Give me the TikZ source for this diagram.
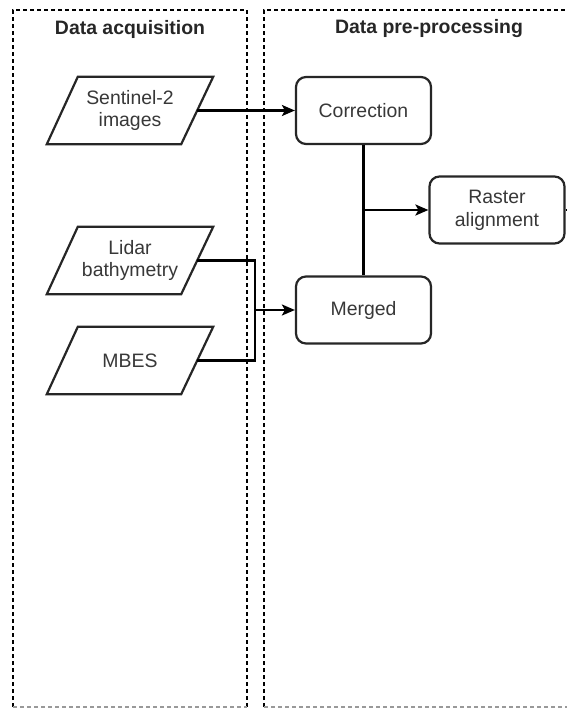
\documentclass[tikz,border=0pt]{standalone}
\usepackage{fontspec}
\setmainfont{Liberation Sans}
\usetikzlibrary{arrows.meta,calc}
\tikzset{
  lane/.style={draw=black, line width=2bp, dash pattern=on 4bp off 3bp},
  lanetitle/.style={font=\fontsize{19.5}{23}\selectfont\bfseries, text=black!85},
  proc/.style={draw=black!85, line width=2.2bp, rounded corners=10bp,
    minimum width=135bp, minimum height=67bp, align=center, inner sep=0pt,
    font=\fontsize{19.5}{23}\selectfont, text=black!78},
  dataio/.style={minimum width=166bp, minimum height=67bp, align=center, inner sep=0pt,
    font=\fontsize{19.5}{23}\selectfont, text=black!78},
  para/.style={draw=black!85, line width=2.2bp, line join=miter},
  link/.style={draw=black, line width=2.2bp},
  flow/.style={link, -{Stealth[length=13bp, width=11bp, inset=3bp]}}
}
\newcommand{\slantbox}[1]{%
  \draw[para] ($(#1.north west)+(31bp,0)$) -- (#1.north east)
    -- ($(#1.south east)+(-32bp,0)$) -- (#1.south west) -- cycle;}
\begin{document}
\begin{tikzpicture}[x=1bp, y=-1bp]
  \useasboundingbox[fill=white] (0,0) rectangle (567,709);

  % swimlanes
  \draw[lane] (13,707) -- (13,10) -- (247,10) -- (247,707);
  \draw[lane, draw=black!40] (13,707) -- (247,707);
  \draw[lane] (264,707) -- (264,10) -- (575,10);
  \draw[lane, draw=black!40] (264,707) -- (575,707);
  \node[lanetitle] (t1) at (130,29) {Data acquisition};
  \node[lanetitle] (t2) at (429,29) {Data pre-processing};

  % inputs
  \node[dataio] (s) at (130,110.5) {Sentinel-2\\images};
  \node[dataio] (l) at (130,260.5) {Lidar\\bathymetry};
  \node[dataio] (m) at (130,360.5) {MBES};
  \slantbox{s}\slantbox{l}\slantbox{m}
  \coordinate (s-out) at ($(s.east)+(-16bp,0)$);
  \coordinate (l-out) at ($(l.east)+(-16bp,0)$);
  \coordinate (m-out) at ($(m.east)+(-16bp,0)$);

  % processing steps
  \node[proc] (corr) at (363.5,110.5) {Correction};
  \node[proc] (merg) at (363.5,310) {Merged};
  \node[proc] (rast) at (497,210) {Raster\\alignment};

  % connectors
  \coordinate (j) at (255,310);
  \coordinate (k) at (363.5,210);
  \coordinate (out) at (575,210);
  \draw[flow] (s-out) -- (corr.west);
  \draw[link] (l-out) -| (j) |- (m-out);
  \draw[flow] (j) -- (merg.west);
  \draw[link] (corr.south) -- (merg.north);
  \draw[flow] (k) -- (rast.west);
  \draw[link] (rast.east) -- (out);
\end{tikzpicture}
\end{document}
